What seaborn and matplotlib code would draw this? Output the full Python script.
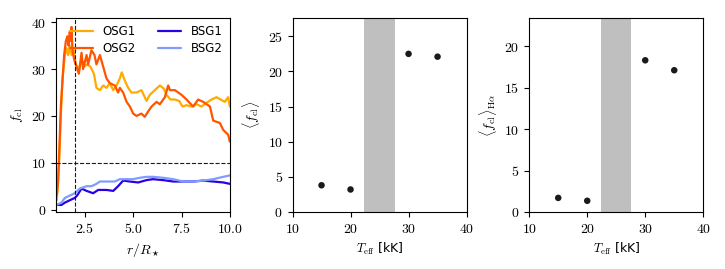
import matplotlib
matplotlib.use("Agg")
import matplotlib.pyplot as plt
import pandas as pd
import seaborn as sns
from matplotlib.ticker import FuncFormatter

# clumping factor profiles
osg1_r = [1.05, 1.17, 1.26, 1.34, 1.47, 1.55, 1.64, 1.72, 1.81, 1.93, 2.03, 2.21, 2.33,
          2.45, 2.62, 2.79, 2.97, 3.10, 3.28, 3.45, 3.62, 3.79, 3.97, 4.14, 4.31, 4.41,
          4.57, 4.74, 4.91, 5.17, 5.43, 5.69, 5.86, 6.12, 6.38, 6.59, 6.72, 6.93, 7.16,
          7.38, 7.55, 7.76, 8.02, 8.28, 8.53, 8.79, 9.05, 9.31, 9.52, 9.74, 9.91, 10.0]
osg1_f = [2, 10, 20, 28, 33, 34.5, 33, 35, 33, 34, 31, 30, 32,
          30.5, 31, 30.5, 29, 26, 25.5, 26.5, 26, 27, 25.5, 26.5, 28, 29.3,
          27.5, 26, 25, 25, 25.5, 23.2, 24.5, 25.5, 26.5, 25.8, 24.5, 23.5, 23.5,
          23.2, 22, 22.3, 22, 22.5, 22, 22.8, 23.5, 24, 23.5, 23, 24, 22]

osg2_r = [1.05, 1.12, 1.2, 1.26, 1.34, 1.43, 1.52, 1.6, 1.66, 1.72, 1.78, 1.81, 1.86,
          1.95, 2.03, 2.19, 2.33, 2.41, 2.59, 2.67, 2.84, 3.0, 3.1, 3.28, 3.45, 3.62,
          3.79, 4.05, 4.22, 4.31, 4.48, 4.66, 4.83, 5.0, 5.17, 5.43, 5.6, 5.78, 5.95,
          6.21, 6.38, 6.64, 6.81, 6.9, 7.16, 7.5, 7.76, 8.1, 8.36, 8.62, 8.97, 9.14,
          9.48, 9.66, 9.91, 10.0]
osg2_f = [3, 6, 15, 22, 27, 33, 36, 37, 35, 38, 36, 39, 34,
          32, 31, 29, 33.5, 30, 33, 31, 34, 33, 31, 33, 30.5, 28,
          27, 26.5, 25, 26, 25, 23, 22, 20.5, 20, 20.5, 19.8, 21, 22,
          23, 22.5, 24, 26.5, 25.5, 25.5, 24.5, 23.5, 22, 23.5, 23, 22, 19,
          18.5, 17, 16, 14.5]

bsg1_r = [1.07, 1.29, 1.47, 1.72, 1.98, 2.1, 2.33, 2.59, 2.93, 3.19, 3.62, 3.97, 4.22,
          4.48, 4.83, 5.26, 5.69, 6.03, 6.55, 7.07, 7.59, 8.1, 8.62, 9.14, 9.66, 10.0]
bsg1_f = [1, 1, 1.5, 2, 2.5, 3, 4.5, 4, 3.5, 4.2, 4.2, 4, 5,
          6.2, 6, 5.8, 6.3, 6.5, 6.3, 6, 6, 6, 6.2, 6, 5.8, 5.5]

bsg2_r = [1.03, 1.29, 1.47, 1.72, 1.98, 2.24, 2.59, 2.84, 3.1, 3.28, 3.79, 4.05, 4.31,
          4.66, 5.0, 5.35, 5.69, 6.03, 6.55, 7.07, 7.59, 8.1, 8.62, 9.14, 9.66, 10.0]
bsg2_f = [1, 1.5, 2.5, 3, 3.5, 4.5, 5, 5, 5.5, 6, 6, 6, 6.5,
          6.5, 6.5, 6.8, 7, 7, 6.8, 6.5, 6, 6, 6.2, 6.5, 7, 7.3]

# mean clumping factors vs effective temperature
teff = [15, 20, 30, 35]
fcl_mean = [3.8, 3.2, 22.5, 22.1]
fcl_halpha = [1.7, 1.35, 18.3, 17.1]

names = ["OSG1", "OSG2", "BSG1", "BSG2"]
colors = ["#ffaa00", "#ff5500", "#2a00e6", "#7f9cff"]


def main():
    sns.set_theme(style="ticks", rc={
        "axes.edgecolor": "black", "xtick.color": "black", "ytick.color": "black",
        "text.color": "black", "axes.labelcolor": "black",
    })
    plt.rcParams["font.family"] = ["DejaVu Sans"]
    plt.rcParams["mathtext.fontset"] = "cm"
    plt.rcParams["font.size"] = 10
    plt.rcParams["axes.labelsize"] = 10
    plt.rcParams["xtick.labelsize"] = 10
    plt.rcParams["ytick.labelsize"] = 10
    plt.rcParams["axes.linewidth"] = 0.8
    plt.rcParams["xtick.major.width"] = 0.8
    plt.rcParams["ytick.major.width"] = 0.8
    plt.rcParams["xtick.major.size"] = 3.5
    plt.rcParams["ytick.major.size"] = 3.5

    rows = []
    for name, rr, ff in zip(names, [osg1_r, osg2_r, bsg1_r, bsg2_r],
                            [osg1_f, osg2_f, bsg1_f, bsg2_f]):
        for r, f in zip(rr, ff):
            rows.append({"model": name, "r": r, "fcl": f})
    df = pd.DataFrame(rows)

    fig, axes = plt.subplots(1, 3, figsize=(7.25, 2.69), dpi=100)
    fig.subplots_adjust(left=0.077, right=0.970, bottom=0.212, top=0.933, wspace=0.36)

    ax = axes[0]
    sns.lineplot(data=df, x="r", y="fcl", hue="model", hue_order=names,
                 palette=colors, linewidth=1.6, ax=ax, sort=False, estimator=None)
    ax.axvline(2, color="k", ls="--", lw=0.8)
    ax.axhline(10, color="k", ls="--", lw=0.8)
    ax.set_xlim(1, 10)
    ax.set_ylim(-0.5, 40.9)
    ax.set_xticks([2.5, 5.0, 7.5, 10.0])
    ax.set_yticks([0, 10, 20, 30, 40])
    ax.xaxis.set_major_formatter(FuncFormatter(lambda v, p: f"${v:.1f}$"))
    ax.yaxis.set_major_formatter(FuncFormatter(lambda v, p: f"${v:.0f}$"))
    ax.set_xlabel(r"$r/R_\star$")
    ax.set_ylabel(r"$f_{\rm cl}$")
    ax.legend(ncol=2, frameon=False, loc="upper right", fontsize=8.5,
              handlelength=1.9, columnspacing=1.9, borderaxespad=0.2,
              labelspacing=0.3, handletextpad=0.85)

    for ax, vals, ymax, yt, lab in [
        (axes[1], fcl_mean, 27.6, [0, 5, 10, 15, 20, 25], r"$\langle f_{\rm cl}\rangle$"),
        (axes[2], fcl_halpha, 23.4, [0, 5, 10, 15, 20], r"$\langle f_{\rm cl}\rangle_{\rm H\alpha}$"),
    ]:
        ax.axvspan(22.4, 27.6, color="#bfbfbf", lw=0)
        sns.scatterplot(x=teff, y=vals, color="k", s=22, edgecolor="none", ax=ax)
        ax.set_xlim(10, 40)
        ax.set_ylim(0, ymax)
        ax.set_xticks([10, 20, 30, 40])
        ax.set_yticks(yt)
        ax.xaxis.set_major_formatter(FuncFormatter(lambda v, p: f"${v:.0f}$"))
        ax.yaxis.set_major_formatter(FuncFormatter(lambda v, p: f"${v:.0f}$"))
        ax.set_xlabel(r"$T_{\rm eff}$ [kK]", fontsize=9)
        ax.set_ylabel(lab)

    fig.savefig("out.png", dpi=100)


if __name__ == "__main__":
    main()
